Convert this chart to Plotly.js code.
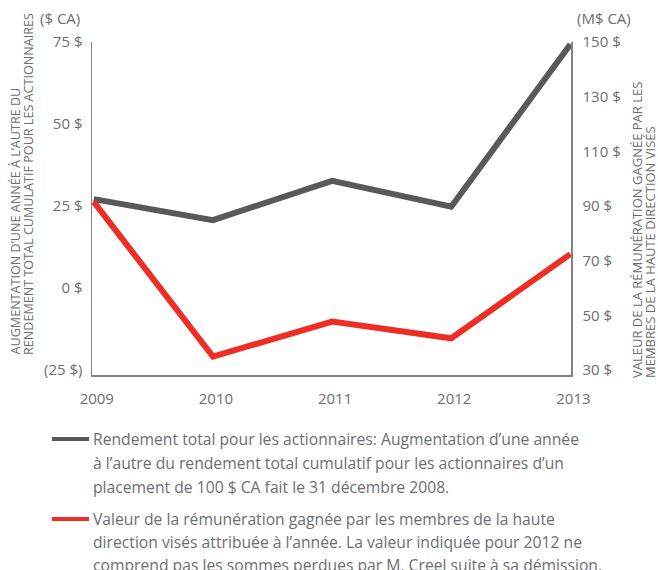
<!DOCTYPE html>
<html>
<head>
<meta charset="utf-8">
<script src="https://cdn.plot.ly/plotly-3.0.1.min.js"></script>
<style>html,body{margin:0;padding:0;background:#fff;}#chart{width:658px;height:570px;}</style>
</head>
<body>
<div id="chart"></div>
<script>
const years = [2009, 2010, 2011, 2012, 2013];
const tsrValues = [27.1, 20.7, 32.7, 24.8, 74.3];
const compValues = [91.5, 34.9, 47.7, 41.6, 72.4];
const leftTickVals = [-25, 0, 25, 50, 75];
const leftTickText = ['(25 $)', '0 $', '25 $', '50 $', '75 $'];
const rightTickVals = [30, 50, 70, 90, 110, 130, 150];
const rightTickText = ['30 $', '50 $', '70 $', '90 $', '110 $', '130 $', '150 $'];
const leftUnit = '($ CA)';
const rightUnit = '(M$ CA)';
const leftTitleLines = ['AUGMENTATION D’UNE ANNÉE À L’AUTRE DU', 'RENDEMENT TOTAL CUMULATIF POUR LES ACTIONNAIRES'];
const rightTitleLines = ['VALEUR DE LA RÉMUNÉRATION GAGNÉE PAR LES', 'MEMBRES DE LA HAUTE DIRECTION VISÉS'];
const tsrLegendLines = ['Rendement total pour les actionnaires: Augmentation d’une année', 'à l’autre du rendement total cumulatif pour les actionnaires d’un', 'placement de 100 $ CA fait le 31 décembre 2008.'];
const compLegendLines = ['Valeur de la rémunération gagnée par les membres de la haute', 'direction visés attribuée à l’année. La valeur indiquée pour 2012 ne', 'comprend pas les sommes perdues par M. Creel suite à sa démission.'];

const GRAY = '#58595b', RED = '#ee2e24', AXIS = '#808285', TEXT = '#6d6e71';
const FONT = 'Open Sans, Noto Sans, sans-serif';

// plot geometry in pixels
const W = 658, H = 570, L = 92, R = 87, T = 42, B = 195;
const pw = W - L - R, ph = H - T - B;
const px = x => (x - L) / pw;
const py = y => (H - B - y) / ph;

const traces = [
  {x: years, y: tsrValues, type: 'scatter', mode: 'lines', yaxis: 'y', line: {color: GRAY, width: 6}, showlegend: false, hoverinfo: 'skip'},
  {x: years, y: compValues, type: 'scatter', mode: 'lines', yaxis: 'y2', line: {color: RED, width: 6}, showlegend: false, hoverinfo: 'skip'}
];

const tickFont = {family: FONT, size: 15, color: TEXT};
const annotations = [];
annotations.push({xref: 'paper', yref: 'paper', x: px(60), y: py(18), text: leftUnit, showarrow: false, font: tickFont, xanchor: 'center', yanchor: 'middle'});
annotations.push({xref: 'paper', yref: 'paper', x: px(604), y: py(18), text: rightUnit, showarrow: false, font: tickFont, xanchor: 'center', yanchor: 'middle'});
const titleFontL = {family: FONT, size: 12.6, color: TEXT};
const titleFontR = {family: FONT, size: 13, color: TEXT};
[[15, leftTitleLines[0]], [28, leftTitleLines[1]]].forEach(([xx, t]) => annotations.push({xref: 'paper', yref: 'paper', x: px(xx), y: py(357), text: t, textangle: -90, showarrow: false, font: titleFontL, xanchor: 'center', yanchor: 'bottom'}));
[[637, rightTitleLines[0]], [650, rightTitleLines[1]]].forEach(([xx, t]) => annotations.push({xref: 'paper', yref: 'paper', x: px(xx), y: py(380), text: t, textangle: -90, showarrow: false, font: titleFontR, xanchor: 'center', yanchor: 'bottom'}));
const legFont = {family: FONT, size: 15.7, color: TEXT};
const legY1 = [439, 463, 487], legY2 = [519, 542, 565];
tsrLegendLines.forEach((t, i) => annotations.push({xref: 'paper', yref: 'paper', x: px(91), y: py(legY1[i]), text: t, showarrow: false, font: legFont, xanchor: 'left', yanchor: 'middle'}));
compLegendLines.forEach((t, i) => annotations.push({xref: 'paper', yref: 'paper', x: px(91), y: py(legY2[i]), text: t, showarrow: false, font: legFont, xanchor: 'left', yanchor: 'middle'}));

const shapes = [
  {type: 'line', xref: 'paper', yref: 'paper', x0: px(52), x1: px(89), y0: py(439), y1: py(439), line: {color: GRAY, width: 4}},
  {type: 'line', xref: 'paper', yref: 'paper', x0: px(52), x1: px(89), y0: py(519), y1: py(519), line: {color: RED, width: 4}}
];

const xRange = [2008.985, 2013.005];
const leftRange = [-26.5, 75];
const rightRange = [28.17, 150];

const layout = {
  width: W, height: H,
  margin: {l: L, r: R, t: T, b: B, pad: 0},
  paper_bgcolor: '#fff', plot_bgcolor: '#fff',
  showlegend: false,
  xaxis: {range: xRange, tickvals: years, ticktext: years.map(String), ticks: '',
          showline: true, linecolor: AXIS, linewidth: 1.5, showgrid: false, zeroline: false, tickfont: tickFont, ticklabelstandoff: 9, ticklabelshift: 3, fixedrange: true},
  xaxis2: {range: xRange, tickvals: years.slice(1, -1), ticks: 'inside', ticklen: 15, tickwidth: 1.3, tickcolor: AXIS, showticklabels: false,
          overlaying: 'x', anchor: 'y', side: 'bottom', showline: false, showgrid: false, zeroline: false, fixedrange: true},
  yaxis: {range: leftRange, tickvals: leftTickVals, ticktext: leftTickText, ticks: '', showline: true, linecolor: AXIS, linewidth: 1.5,
          showgrid: false, zeroline: false, tickfont: tickFont, ticklabelstandoff: 5, fixedrange: true},
  yaxis2: {range: rightRange, tickvals: rightTickVals, ticktext: rightTickText, ticks: '', overlaying: 'y', side: 'right', showline: true, linecolor: AXIS, linewidth: 1.5,
          showgrid: false, zeroline: false, tickfont: tickFont, ticklabelstandoff: 7, fixedrange: true},
  yaxis3: {range: leftRange, tickvals: leftTickVals.slice(1), ticks: 'inside', ticklen: 15, tickwidth: 1.3, tickcolor: AXIS, showticklabels: false, overlaying: 'y', anchor: 'x', side: 'left',
          showline: false, showgrid: false, zeroline: false, fixedrange: true},
  yaxis4: {range: rightRange, tickvals: rightTickVals.slice(1), ticks: 'inside', ticklen: 15, tickwidth: 1.3, tickcolor: AXIS, showticklabels: false, overlaying: 'y', anchor: 'x', side: 'right',
          showline: false, showgrid: false, zeroline: false, fixedrange: true},
  annotations: annotations,
  shapes: shapes
};

Plotly.newPlot('chart', traces, layout, {staticPlot: true, displayModeBar: false});
</script>
</body>
</html>
